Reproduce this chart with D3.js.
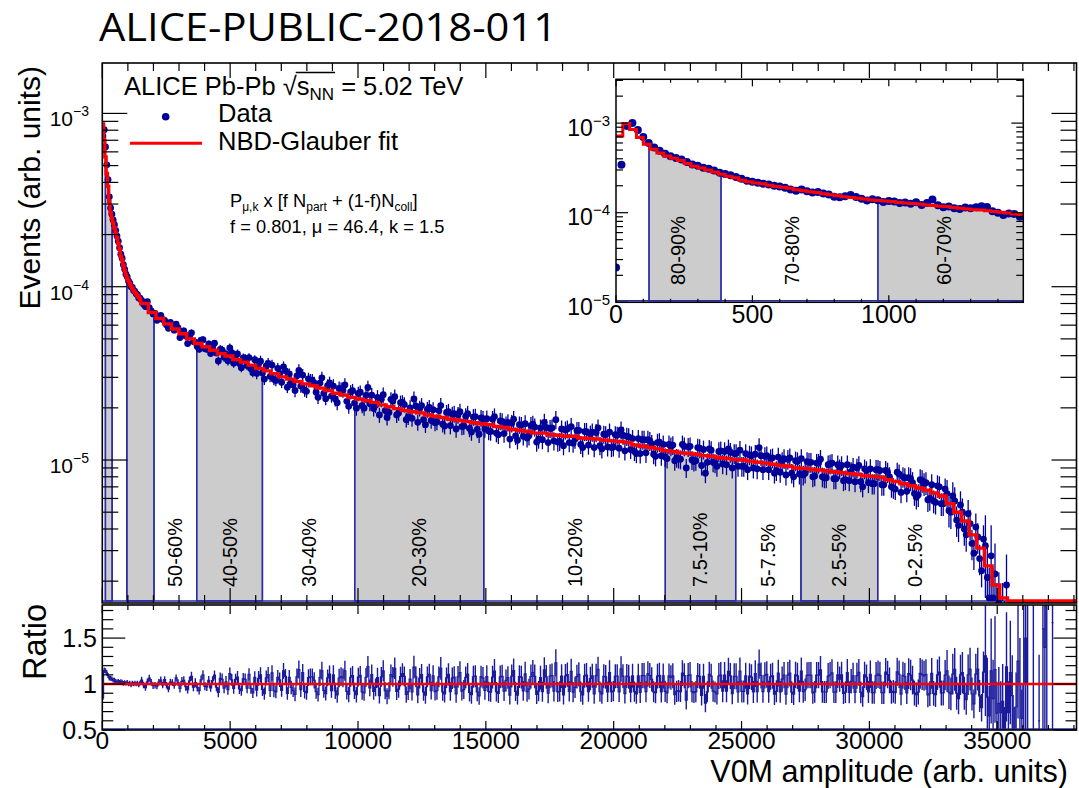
<!DOCTYPE html>
<html><head><meta charset="utf-8">
<script src="https://cdn.jsdelivr.net/npm/d3@7"></script>
<style>
body{margin:0;background:#fff}
svg{display:block}
text{font-family:"Liberation Sans",Arial,Helvetica,sans-serif;fill:#000}
</style>
</head><body>
<svg id="c" width="1079" height="788"></svg>
<script>
// ---------------- DATA (values in units of 1e-6, arb. units) ----------------
const SCALE = 1e-6;

// main panel, low-amplitude region: 50-unit bins starting at 0
const mainLowStart = 0, mainLowWidth = 50;
const mainLowData = [740, 805, 640, 505, 415, 330, 285, 262, 243, 228,
  211, 196, 183, 168, 154, 146, 134, 126, 118, 114,
  108, 105, 100, 99, 95, 94, 91, 90, 86, 86];
const mainLowFit = [870, 700, 560, 450, 380, 310, 268, 248, 233, 219,
  205, 192, 178, 165, 150, 143, 133, 124, 117, 112,
  108, 104, 101, 98, 95, 93, 91, 89, 87, 85];

// main panel, data: 75-unit bins starting at 1500
const mainHighStart = 1500, mainHighWidth = 75;
const mainHighData = [
  83.4, 79.2, 76.8, 81.9, 75.6, 72.4, 69.7, 70.1, 64.0, 66.8, 68.4, 64.7, 63.9, 60.2, 57.6, 62.3, 58.0, 56.1, 60.8, 57.9,
  50.9, 55.1, 55.6, 52.0, 47.0, 51.8, 54.2, 48.3, 47.8, 45.2, 43.6, 49.1, 49.5, 43.9, 43.6, 46.8, 41.2, 44.6, 47.2, 41.5,
  37.3, 43.5, 43.1, 39.2, 40.8, 37.4, 44.3, 41.6, 36.2, 39.9, 40.9, 36.0, 34.1, 38.8, 38.6, 35.1, 39.0, 33.6, 31.9, 37.9,
  31.6, 35.9, 37.2, 31.8, 29.3, 34.9, 36.1, 30.4, 35.3, 29.2, 28.8, 33.8, 31.6, 28.1, 34.5, 32.7, 26.3, 31.4, 28.2, 27.2,
  25.2, 30.6, 32.9, 26.7, 30.9, 25.3, 24.9, 29.4, 28.9, 28.9, 27.9, 24.6, 23.0, 27.8, 29.8, 24.2, 22.6, 26.9, 27.9, 23.4,
  26.7, 22.5, 21.4, 25.9, 25.6, 25.3, 27.1, 21.8, 20.4, 24.7, 25.1, 21.3, 19.9, 24.2, 24.6, 20.6, 19.9, 23.6, 26.2, 21.1,
  23.7, 19.8, 20.7, 23.0, 18.2, 22.4, 23.8, 19.3, 17.6, 18.8, 22.4, 21.9, 23.2, 18.2, 18.7, 21.4, 21.5, 20.9, 17.1, 17.7,
  20.0, 17.4, 22.5, 20.5, 16.5, 19.9, 20.6, 17.1, 16.0, 19.6, 20.1, 16.9, 19.5, 16.4, 16.6, 19.3, 20.6, 16.1, 15.7, 18.8,
  19.0, 15.8, 18.3, 18.5, 15.1, 18.2, 19.0, 15.6, 15.7, 17.9, 18.5, 15.2, 14.5, 17.7, 17.8, 15.0, 14.1, 17.5, 17.3, 15.1,
  17.3, 14.7, 14.6, 17.2, 17.8, 14.3, 14.0, 16.8, 16.7, 14.2, 16.0, 16.5, 13.2, 16.3, 17.2, 13.8, 13.0, 16.0, 15.9, 13.7,
  16.2, 13.4, 13.8, 15.8, 16.1, 15.5, 12.7, 13.2, 15.3, 13.1, 16.5, 15.4, 12.6, 15.2, 15.3, 12.9, 17.1, 12.7, 12.8, 15.1,
  12.1, 14.9, 15.1, 12.6, 15.6, 12.5, 13.2, 14.8, 14.8, 12.3, 11.8, 14.6, 14.6, 12.2, 14.1, 14.5, 11.8, 14.4, 15.3, 12.1,
  11.6, 14.1, 14.0, 11.9, 14.5, 11.8, 11.9, 14.0, 13.9, 11.7, 14.9, 13.9, 11.3, 13.7, 13.6, 11.5, 13.3, 11.2, 10.9, 13.3,
  10.9, 13.1, 13.1, 11.0, 13.1, 12.9, 12.4, 10.8, 10.5, 12.6, 12.7, 10.6, 12.3, 10.4, 10.2, 12.3, 12.0, 12.2, 9.9, 10.3,
  10.2, 10.1, 12.3, 12.0, 9.0, 11.9, 12.0, 10.0, 9.8, 9.9, 11.8, 11.7, 9.3, 11.5, 8.4, 9.7, 11.6, 11.4, 9.7, 9.6,
  9.2, 11.2, 11.3, 9.5, 11.2, 9.4, 11.6, 11.1, 9.0, 10.9, 10.9, 9.2, 11.4, 9.2, 9.2, 10.9, 8.8, 10.7, 10.6, 9.0,
  10.8, 8.9, 11.8, 10.6, 8.8, 10.5, 10.6, 8.8, 10.2, 10.3, 8.4, 8.7, 10.4, 8.5, 9.8, 10.2, 8.2, 10.1, 10.3, 8.4,
  8.0, 9.9, 9.8, 8.3, 10.2, 8.2, 8.4, 9.8, 9.7, 9.7, 8.0, 8.1, 9.6, 9.6, 10.1, 8.0, 7.9, 7.9, 9.4, 9.5,
  9.6, 7.8, 7.8, 9.4, 8.9, 9.3, 7.6, 7.7, 9.4, 7.6, 8.6, 9.1, 7.5, 9.0, 9.3, 7.5, 7.0, 8.9, 8.7, 7.4,
  8.9, 7.3, 7.3, 8.8, 8.8, 8.7, 7.2, 7.2, 8.7, 8.5, 8.0, 7.0, 6.9, 6.8, 8.5, 8.3, 6.5, 8.0, 7.9, 6.6,
  7.9, 7.8, 7.4, 6.4, 6.1, 6.3, 7.7, 7.6, 7.3, 7.4, 5.9, 6.0, 7.2, 5.8, 5.7, 7.1, 7.0, 5.6, 5.6, 6.8,
  6.4, 5.1, 5.0, 6.2, 5.8, 4.5, 4.2, 5.5, 5.0, 4.0, 3.7, 4.9, 4.3, 3.3, 2.9, 4.1, 3.6, 2.7, 2.3, 3.5,
  3.2, 2.1, 1.6, 2.8, 1.6, 2.2, 1.3, 1.5, 1.1, 1.3, 0.8, 1.9, 0.55, 0.9, 0.7, 0.4, 0.3, 0.5, 0.4, 0.25,
  0.2, 0.3, 0.2, 0, 0, 0.1, 0, 0, 0.03, 0, 0.08, 0.07, 0.06, 0, 0, 0.05, 0, 0, 0, 0];

// main panel, NBD-Glauber fit: 300-unit bins starting at 1500
const mainHighFitWidth = 300;
const mainHighFit = [
  80, 71, 65.5, 61, 57, 53.5, 50, 47, 45, 43,
  41, 39.8, 38, 36.7, 35.3, 33.8, 32.7, 31.5, 30.2, 29.3,
  28.4, 27.5, 26.8, 26, 25.2, 24.3, 23.7, 23.0, 22.5, 22,
  21.5, 20.8, 20.3, 19.8, 19.3, 19.0, 18.7, 18.2, 17.9, 17.6,
  17.2, 16.9, 16.7, 16.4, 16.2, 16.0, 15.6, 15.4, 15.0, 14.8,
  14.6, 14.3, 14.3, 14.0, 13.9, 13.7, 13.7, 13.4, 13.3, 13.2,
  13.0, 12.9, 12.8, 12.6, 12.2, 12.0, 11.8, 11.6, 11.3, 11.2,
  11.0, 10.9, 10.8, 10.6, 10.5, 10.3, 10.2, 10.05, 10.0, 9.85,
  9.7, 9.6, 9.45, 9.3, 9.2, 9.0, 8.95, 8.85, 8.75, 8.65,
  8.55, 8.45, 8.35, 8.25, 8.1, 8.05, 7.95, 7.7, 7.5, 7.3,
  7.1, 6.9, 6.7, 6.45, 6.2, 5.6, 5.0, 4.45, 3.7, 3.1,
  2.45, 1.9, 1.6, 0.8, 0.4, 0.2, 0.1, 0.05, 0.03, 0.01, 0.005, 0];

// relative statistical errors, per 1500-unit chunk from 1500
const relErrChunk = 1500;
const relErrHigh = [0.035, 0.045, 0.06, 0.075, 0.085, 0.095, 0.1, 0.105, 0.11, 0.115,
  0.12, 0.12, 0.12, 0.125, 0.125, 0.13, 0.13, 0.13, 0.13, 0.135, 0.15, 0.2, 0.5, 1.2];
const relErrLow = 0.025;

// inset: data points every 20 units from 0, fit in 25-unit bins from 0
const insetDataFirst = 0, insetDataStep = 20;
const insetData = [24.5, 344, 930, 1005, 840, 700, 600, 535, 492, 455,
  428, 408, 392, 368, 346, 334, 318, 310, 296, 280,
  270, 262, 250, 240, 228, 222, 216, 210, 206, 200,
  196, 190, 181, 176, 182, 174, 168, 170, 164, 160,
  151, 149, 153, 158, 150, 143, 137, 141, 138, 132,
  135, 133, 128, 130, 126, 131, 122, 128, 140, 121,
  115, 117, 112, 110, 114, 112, 115, 118, 116, 104,
  100, 94, 98, 97, 90];
const insetFitStart = 0, insetFitWidth = 25;
const insetFit = [720, 990, 850, 690, 580, 510, 465, 430, 405, 383,
  355, 330, 315, 300, 285, 268, 255, 245, 230, 222,
  215, 210, 202, 196, 192, 187, 180, 176, 171, 168,
  163, 159, 155, 151, 148, 145, 142, 139, 137, 135,
  133, 130, 128, 127, 125, 122, 120, 118, 117, 114,
  112, 110, 108, 107, 105, 103, 101, 99, 97, 95];
const insetRelErr = 0.03;

// centrality classes (V0M amplitude boundaries)
const centralityLabels = ["80-90%", "70-80%", "60-70%", "50-60%", "40-50%", "30-40%",
  "20-30%", "10-20%", "7.5-10%", "5-7.5%", "2.5-5%", "0-2.5%"];
const centralityLow  = [121, 385, 960, 2022, 3692, 6262, 9871, 14920, 22018, 24771, 27325, 30325];
const centralityHigh = [385, 960, 2022, 3692, 6262, 9871, 14920, 22018, 24771, 27325, 30325, 33250];
const centralityShaded = [true, false, true, false, true, false, true, false, true, false, true, false];

// tick labels
const xTicksMain = [0, 5000, 10000, 15000, 20000, 25000, 30000, 35000];
const yTicksMain = [1e-5, 1e-4, 1e-3];
const yTickExpMain = ["−5", "−4", "−3"];
const ratioTicks = [0.5, 1, 1.5];
const ratioTickLabels = ["0.5", "1", "1.5"];
const insetXTicks = [0, 500, 1000];
const insetYTicks = [1e-5, 1e-4, 1e-3];
const insetYExp = ["−5", "−4", "−3"];

// ---------------- DRAWING ----------------
const svg = d3.select('#c');
const BLUE = '#000099', EDGE = '#2a2aa8', RED = '#ff0000', GRAY = '#cccccc', RLINE = '#1a1a9c';

const X0 = 102.3, X1 = 1076.5, Y0 = 63, Y1 = 603;
const R0 = 605, R1 = 730;
const x = d3.scaleLinear().domain([0, 38100]).range([X0, X1]);
const y = d3.scaleLog().domain([1.496e-6, 1.954e-3]).range([Y1, Y0]);
const yr = d3.scaleLinear().domain([0.5, 1.86]).range([R1, R0]);
const IX0 = 616, IX1 = 1023.3, IY0 = 79.3, IY1 = 302.3;
const ix = d3.scaleLinear().domain([0, 1493]).range([IX0, IX1]);
const iy = d3.scaleLog().domain([1e-5, 3.083e-3]).range([IY1, IY0]);

const defs = svg.append('defs');
function clip(id, x0, y0, x1, y1) {
  defs.append('clipPath').attr('id', id).append('rect')
    .attr('x', x0).attr('y', y0).attr('width', x1 - x0).attr('height', y1 - y0);
}
clip('cmain', X0, Y0, X1, Y1);
clip('cratio', X0, R0, X1, R1);
clip('cinset', IX0, IY0, IX1, IY1);

// build bins
const mainBins = [];
mainLowData.forEach((v, i) => {
  const lo = mainLowStart + i * mainLowWidth;
  mainBins.push({lo, hi: lo + mainLowWidth, c: lo + mainLowWidth / 2, v: v * SCALE,
    f: mainLowFit[i] * SCALE, e: relErrLow});
});
mainHighData.forEach((v, k) => {
  const lo = mainHighStart + k * mainHighWidth;
  const fi = Math.floor((lo - mainHighStart) / mainHighFitWidth);
  const ei = Math.min(relErrHigh.length - 1, Math.floor((lo - mainHighStart) / relErrChunk));
  mainBins.push({lo, hi: lo + mainHighWidth, c: lo + mainHighWidth / 2, v: v * SCALE,
    f: mainHighFit[fi] * SCALE, e: relErrHigh[ei]});
});
const mainFitBins = [];
mainLowFit.forEach((f, i) => mainFitBins.push({lo: mainLowStart + i * mainLowWidth, hi: mainLowStart + (i + 1) * mainLowWidth, f: f * SCALE}));
mainHighFit.forEach((f, i) => mainFitBins.push({lo: mainHighStart + i * mainHighFitWidth, hi: mainHighStart + (i + 1) * mainHighFitWidth, f: f * SCALE}));

const insetBins = insetData.map((v, i) => ({c: insetDataFirst + i * insetDataStep, v: v * SCALE, e: insetRelErr}));
const insetFitBins = insetFit.map((f, i) => ({lo: insetFitStart + i * insetFitWidth, hi: insetFitStart + (i + 1) * insetFitWidth, f: f * SCALE}));

function makePanel(xs, ys, fitBins, yFloor) {
  const yc = v => (v > 0 ? Math.min(ys(v), yFloor) : yFloor);
  const fitAt = u => { const b = fitBins.find(b => u >= b.lo && u < b.hi); return b ? b.f : 0; };
  return {yc, fitAt,
    bandPoly(lo, hi) {
      const pts = [[xs(lo), yFloor], [xs(lo), yc(fitAt(lo))]];
      fitBins.forEach(b => {
        if (b.lo > lo && b.lo < hi) {
          pts.push([xs(b.lo), yc(fitAt(b.lo - 1e-6))]);
          pts.push([xs(b.lo), yc(b.f)]);
        }
      });
      pts.push([xs(hi), yc(fitAt(hi - 1e-6))]);
      pts.push([xs(hi), yFloor]);
      return pts;
    },
    fitPath() {
      const pts = [];
      fitBins.forEach(b => { pts.push([xs(b.lo), yc(b.f)]); pts.push([xs(b.hi), yc(b.f)]); });
      return d3.line()(pts);
    }};
}

// ---------- main upper panel ----------
const gm = svg.append('g').attr('clip-path', 'url(#cmain)');
const MF = Y1 - 2;
const pm = makePanel(x, y, mainFitBins, MF);
centralityLow.forEach((lo, i) => {
  if (!centralityShaded[i]) return;
  gm.append('path').attr('d', d3.line()(pm.bandPoly(lo, centralityHigh[i])) + 'Z')
    .attr('fill', GRAY).attr('stroke', EDGE).attr('stroke-width', 1.4);
});
centralityLow.forEach(lo => {
  gm.append('line').attr('x1', x(lo)).attr('x2', x(lo)).attr('y1', MF)
    .attr('y2', pm.yc(pm.fitAt(lo))).attr('stroke', EDGE).attr('stroke-width', 1.4);
});
gm.append('line').attr('x1', X0).attr('x2', X1).attr('y1', MF).attr('y2', MF)
  .attr('stroke', EDGE).attr('stroke-width', 1.6);
centralityLabels.forEach((lab, i) => {
  if (i < 3) return;
  const xm = x((centralityLow[i] + centralityHigh[i]) / 2);
  svg.append('text').attr('transform', `translate(${xm},587) rotate(-90)`)
    .attr('font-size', 20).attr('dominant-baseline', 'central').text(lab);
});
mainBins.forEach(b => {
  if (!(b.v > 0)) return;
  gm.append('line').attr('x1', x(b.c)).attr('x2', x(b.c))
    .attr('y1', pm.yc(b.v * (1 - b.e))).attr('y2', y(b.v * (1 + b.e)))
    .attr('stroke', BLUE).attr('stroke-width', 1.3);
});
mainBins.forEach(b => {
  if (!(b.v >= y.domain()[0])) return;
  gm.append('circle').attr('cx', x(b.c)).attr('cy', y(b.v)).attr('r', 3.4).attr('fill', BLUE);
});
gm.append('path').attr('d', pm.fitPath()).attr('fill', 'none').attr('stroke', RED)
  .attr('stroke-width', 3.4).attr('stroke-linejoin', 'miter');

// ---------- ratio panel ----------
const gr = svg.append('g').attr('clip-path', 'url(#cratio)');
const ratioPts = [];
mainBins.forEach(b => {
  const ok = b.v > 0 && b.f > 0;
  const r = ok ? b.v / b.f : null;
  ratioPts.push({u: b.lo, r}); ratioPts.push({u: b.hi, r});
  if (!ok) return;
  const er = r * b.e;
  gr.append('line').attr('x1', x(b.c)).attr('x2', x(b.c)).attr('y1', yr(r - er)).attr('y2', yr(r + er))
    .attr('stroke', RLINE).attr('stroke-width', 1.4);
});
gr.append('path')
  .attr('d', d3.line().defined(d => d.r !== null).x(d => x(d.u)).y(d => yr(Math.max(0.3, Math.min(2.2, d.r))))(ratioPts))
  .attr('fill', 'none').attr('stroke', RLINE).attr('stroke-width', 1.2);
gr.append('line').attr('x1', X0).attr('x2', X1).attr('y1', yr(1)).attr('y2', yr(1))
  .attr('stroke', RED).attr('stroke-width', 2.6);
gr.append('line').attr('x1', X0).attr('x2', X1).attr('y1', R1 - 1).attr('y2', R1 - 1)
  .attr('stroke', EDGE).attr('stroke-width', 1.6);

// ---------- inset ----------
svg.append('rect').attr('x', IX0).attr('y', IY0).attr('width', IX1 - IX0).attr('height', IY1 - IY0).attr('fill', '#fff');
const gi = svg.append('g').attr('clip-path', 'url(#cinset)');
const IF = IY1 - 1.5;
const pi = makePanel(ix, iy, insetFitBins, IF);
centralityLow.forEach((lo, i) => {
  if (!centralityShaded[i] || lo > ix.domain()[1]) return;
  gi.append('path').attr('d', d3.line()(pi.bandPoly(lo, Math.min(centralityHigh[i], ix.domain()[1] + 5))) + 'Z')
    .attr('fill', GRAY).attr('stroke', EDGE).attr('stroke-width', 1.3);
});
centralityLow.forEach(lo => {
  if (lo > ix.domain()[1]) return;
  gi.append('line').attr('x1', ix(lo)).attr('x2', ix(lo)).attr('y1', IF)
    .attr('y2', pi.yc(pi.fitAt(lo))).attr('stroke', EDGE).attr('stroke-width', 1.3);
});
gi.append('line').attr('x1', IX0).attr('x2', IX1).attr('y1', IF).attr('y2', IF)
  .attr('stroke', EDGE).attr('stroke-width', 1.6);
centralityLabels.forEach((lab, i) => {
  if (centralityLow[i] > ix.domain()[1]) return;
  const hi = Math.min(centralityHigh[i], ix.domain()[1]);
  const xm = ix((centralityLow[i] + hi) / 2);
  svg.append('text').attr('transform', `translate(${xm},285) rotate(-90)`)
    .attr('font-size', 20).text(lab);
});
insetBins.forEach(b => {
  gi.append('line').attr('x1', ix(b.c)).attr('x2', ix(b.c)).attr('y1', iy(b.v * (1 - b.e))).attr('y2', iy(b.v * (1 + b.e)))
    .attr('stroke', BLUE).attr('stroke-width', 1.2);
});
insetBins.forEach(b => {
  gi.append('circle').attr('cx', ix(b.c)).attr('cy', iy(b.v)).attr('r', 4).attr('fill', BLUE);
});
gi.append('path').attr('d', pi.fitPath()).attr('fill', 'none').attr('stroke', RED).attr('stroke-width', 3);

// ---------- frames and ticks ----------
function ln(x1, y1, x2, y2, w) {
  svg.append('line').attr('x1', x1).attr('y1', y1).attr('x2', x2).attr('y2', y2)
    .attr('stroke', '#000').attr('stroke-width', w || 1.2);
}
function frame(x0, y0, x1, y1, w) {
  svg.append('rect').attr('x', x0).attr('y', y0).attr('width', x1 - x0).attr('height', y1 - y0)
    .attr('fill', 'none').attr('stroke', '#000').attr('stroke-width', w);
}
function logTicks(dom) {
  const out = [];
  for (let e = Math.floor(Math.log10(dom[0])); e <= Math.ceil(Math.log10(dom[1])); e++)
    for (let m = 1; m <= 9; m++) {
      const v = m * Math.pow(10, e);
      if (v >= dom[0] * 0.999 && v <= dom[1]) out.push({v, major: m === 1});
    }
  return out;
}
frame(X0, Y0, X1, Y1, 1.6);
logTicks(y.domain()).forEach(t => {
  const L = t.major ? 25 : 16;
  ln(X0, y(t.v), X0 + L, y(t.v)); ln(X1 - L, y(t.v), X1, y(t.v));
});
for (let u = 0; u <= x.domain()[1]; u += 1000) {
  const L = (u % 5000 === 0) ? 15 : 8;
  ln(x(u), Y1, x(u), Y1 - L); ln(x(u), Y0, x(u), Y0 + L);
}
frame(X0, R0, X1, R1, 1.6);
for (let k = 5; k <= 18; k++) {
  const v = k / 10;
  if (v > yr.domain()[1]) break;
  const L = (k % 5 === 0) ? 23 : 11;
  ln(X0, yr(v), X0 + L, yr(v)); ln(X1 - L, yr(v), X1, yr(v));
}
for (let u = 0; u <= x.domain()[1]; u += 1000) {
  const L = (u % 5000 === 0) ? 9 : 5;
  ln(x(u), R1, x(u), R1 - L); ln(x(u), R0, x(u), R0 + L);
}
frame(IX0, IY0, IX1, IY1, 1.5);
logTicks(iy.domain()).forEach(t => {
  const L = t.major ? 12 : 7;
  ln(IX0, iy(t.v), IX0 + L, iy(t.v)); ln(IX1 - L, iy(t.v), IX1, iy(t.v));
});
for (let u = 0; u <= ix.domain()[1]; u += 100) {
  const L = (u % 500 === 0) ? 7 : 3.5;
  ln(ix(u), IY1, ix(u), IY1 - L); ln(ix(u), IY0, ix(u), IY0 + L);
}

// ---------- tick labels ----------
yTicksMain.forEach((v, i) => {
  const t = svg.append('text').attr('x', 89).attr('y', y(v) + 13).attr('text-anchor', 'end').attr('font-size', 21);
  t.append('tspan').text('10');
  t.append('tspan').attr('dy', -10).attr('font-size', 14).text(yTickExpMain[i]);
});
insetYTicks.forEach((v, i) => {
  const t = svg.append('text').attr('x', 610).attr('y', iy(v) + 12.5).attr('text-anchor', 'end').attr('font-size', 23);
  t.append('tspan').text('10');
  t.append('tspan').attr('dy', -10).attr('font-size', 15).text(insetYExp[i]);
});
insetXTicks.forEach(v => {
  svg.append('text').attr('x', ix(v)).attr('y', 323).attr('text-anchor', 'middle').attr('font-size', 25).text(String(v));
});
xTicksMain.forEach(v => {
  svg.append('text').attr('x', x(v)).attr('y', 749).attr('text-anchor', 'middle').attr('font-size', 24.5).text(String(v));
});
ratioTicks.forEach((v, i) => {
  svg.append('text').attr('x', 97).attr('y', yr(v) + 9).attr('text-anchor', 'end').attr('font-size', 25).text(ratioTickLabels[i]);
});

// ---------- axis titles ----------
svg.append('text').attr('x', 1068).attr('y', 781.5).attr('text-anchor', 'end').attr('font-size', 30.5)
  .text('V0M amplitude (arb. units)');
svg.append('text').attr('transform', 'translate(40,66) rotate(-90)').attr('text-anchor', 'end')
  .attr('font-size', 30).text('Events (arb. units)');
svg.append('text').attr('transform', 'translate(46,604) rotate(-90)').attr('text-anchor', 'end')
  .attr('font-size', 32.5).text('Ratio');

// ---------- title ----------
svg.append('text').attr('x', 99).attr('y', 40.5).attr('font-size', 39)
  .attr('textLength', 458).attr('lengthAdjust', 'spacingAndGlyphs')
  .style('font-family', '"Open Sans", "Liberation Sans", sans-serif').text('ALICE-PUBLIC-2018-011');

// ---------- legend ----------
const lt = svg.append('text').attr('x', 124).attr('y', 95).attr('font-size', 25.5);
lt.append('tspan').text('ALICE Pb-Pb ');
lt.append('tspan').text('√');
lt.append('tspan').text('s');
lt.append('tspan').attr('dy', 5).attr('font-size', 17).text('NN');
lt.append('tspan').attr('dy', -5).text(' = 5.02 TeV');
{
  const n = lt.node();
  const xs = n.getStartPositionOfChar(13).x, xe = n.getEndPositionOfChar(15).x;
  ln(xs - 1, 72.5, xe + 1, 72.5, 1.4);
}
svg.append('circle').attr('cx', 165.7).attr('cy', 116.7).attr('r', 3.8).attr('fill', BLUE);
svg.append('text').attr('x', 218).attr('y', 121.7).attr('font-size', 25.5).text('Data');
svg.append('line').attr('x1', 130).attr('x2', 202).attr('y1', 143.3).attr('y2', 143.3).attr('stroke', RED).attr('stroke-width', 3);
svg.append('text').attr('x', 218).attr('y', 150).attr('font-size', 25.5).text('NBD-Glauber fit');

const f1 = svg.append('text').attr('x', 230).attr('y', 206.7).attr('font-size', 18.3);
f1.append('tspan').text('P');
f1.append('tspan').attr('dy', 4).attr('font-size', 12).text('μ,k');
f1.append('tspan').attr('dy', -4).text(' x [f N');
f1.append('tspan').attr('dy', 4).attr('font-size', 12).text('part');
f1.append('tspan').attr('dy', -4).text(' + (1-f)N');
f1.append('tspan').attr('dy', 4).attr('font-size', 12).text('coll');
f1.append('tspan').attr('dy', -4).text(']');
svg.append('text').attr('x', 230).attr('y', 233.3).attr('font-size', 18.3).text('f = 0.801, μ = 46.4, k = 1.5');
</script>
</body></html>
